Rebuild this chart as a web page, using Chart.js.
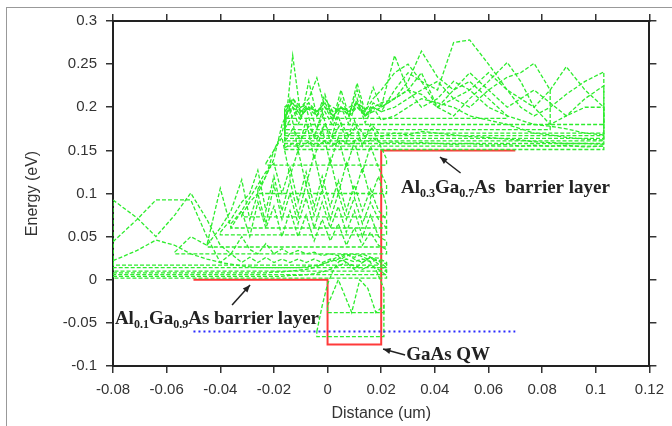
<!DOCTYPE html>
<html>
<head>
<meta charset="utf-8">
<script src="https://cdn.jsdelivr.net/npm/chart.js@4.4.1/dist/chart.umd.min.js"></script>
<style>
  html, body { margin: 0; padding: 0; background: #fff; overflow: hidden; }
  #frame { position: absolute; left: 6px; top: 7px; width: 700px; height: 450px; border-left: 1px solid #999; border-top: 1px solid #999; }
  #chart { position: absolute; left: 0; top: 0; }
</style>
</head>
<body>
<div id="frame"></div>
<canvas id="chart" width="672" height="426"></canvas>
<script>
// axis ranges
const xMin = -0.08, xMax = 0.12, xStep = 0.02;
const yMin = -0.1, yMax = 0.3, yStep = 0.05;

// band edge (red) and fermi level (blue)
const bandX = [-0.05, 0, 0, 0.02, 0.02, 0.07];
const bandE = [0, 0, -0.075, -0.075, 0.15, 0.15];
const fermiX = [-0.05, 0.07];
const fermiE = [-0.06, -0.06];

// states in the Al0.1Ga0.9As layer
const lowerX = [-0.080, -0.071, -0.064, -0.057, -0.051, -0.045, -0.040, -0.036, -0.032, -0.029, -0.026, -0.023, -0.020, -0.017, -0.014, -0.011, -0.008, -0.005, -0.002, 0.001, 0.004, 0.007, 0.010, 0.013, 0.016, 0.019, 0.022];
const lowerBase = [0.002, 0.006, 0.010, 0.014, 0.017, 0.030, 0.038, 0.052, 0.060, 0.073, 0.100, 0.133];
const lowerWaves = [
  [0.004,0.004,0.004,0.004,0.004,0.004,0.004,0.004,0.004,0.004,0.004,0.004,0.004,0.004,0.005,0.005,0.006,0.007,0.009,0.012,0.016,0.020,0.016,0.012,0.017,0.012,0.005],
  [0.008,0.008,0.008,0.008,0.008,0.008,0.008,0.008,0.008,0.008,0.008,0.008,0.009,0.009,0.010,0.011,0.012,0.014,0.018,0.022,0.027,0.020,0.012,0.020,0.026,0.018,0.010],
  [0.022,0.034,0.046,0.040,0.030,0.024,0.020,0.018,0.016,0.015,0.014,0.014,0.014,0.014,0.014,0.014,0.015,0.016,0.018,0.021,0.024,0.030,0.024,0.020,0.026,0.022,0.014],
  [0.044,0.070,0.0925,0.0925,0.0925,0.050,0.020,0.030,0.020,0.026,0.020,0.026,0.020,0.024,0.020,0.024,0.020,0.024,0.020,0.024,0.021,0.024,0.021,0.024,0.021,0.023,0.018],
  [0.0925,0.0716,0.050,0.075,0.1005,0.070,0.040,0.030,0.050,0.035,0.030,0.042,0.030,0.036,0.030,0.034,0.030,0.032,0.028,0.030,0.028,0.030,0.026,0.030,0.026,0.025,0.020],
  [null,null,null,0.032,0.050,0.040,0.106,0.060,0.080,0.050,0.090,0.060,0.085,0.050,0.080,0.050,0.075,0.045,0.070,0.045,0.065,0.040,0.060,0.040,0.055,0.040,0.035],
  [null,null,null,null,null,0.040,0.060,0.080,0.116,0.070,0.100,0.065,0.110,0.070,0.100,0.065,0.095,0.060,0.090,0.060,0.085,0.055,0.080,0.050,0.075,0.050,0.045],
  [null,null,null,null,null,null,0.055,0.070,0.090,0.100,0.127,0.080,0.120,0.080,0.115,0.075,0.110,0.075,0.105,0.070,0.100,0.070,0.095,0.065,0.090,0.070,0.060],
  [null,null,null,null,null,null,null,0.065,0.080,0.095,0.110,0.125,0.135,0.100,0.130,0.090,0.125,0.085,0.120,0.085,0.115,0.080,0.110,0.080,0.105,0.080,0.070],
  [null,null,null,null,null,null,null,null,0.075,0.090,0.100,0.120,0.150,0.165,0.120,0.150,0.110,0.145,0.105,0.140,0.100,0.135,0.100,0.130,0.095,0.120,0.085],
  [null,null,null,null,null,null,null,null,null,null,0.105,0.120,0.140,0.180,0.200,0.150,0.185,0.140,0.175,0.135,0.165,0.130,0.160,0.125,0.155,0.130,0.110],
  [null,null,null,null,null,null,null,null,null,null,null,0.135,0.150,0.170,0.210,0.180,0.200,0.165,0.195,0.160,0.190,0.160,0.185,0.155,0.180,0.160,0.140]
];

// states above the Al0.3Ga0.7As barrier
const upperX = [-0.016, -0.013, -0.010, -0.007, -0.004, -0.001, 0.002, 0.005, 0.008, 0.011, 0.014, 0.017, 0.020, 0.025, 0.030, 0.035, 0.041, 0.047, 0.053, 0.060, 0.067, 0.072, 0.077, 0.083, 0.089, 0.096, 0.103];
const upperBase = [0.151, 0.155, 0.158, 0.161, 0.164, 0.167, 0.170, 0.174, 0.180, 0.187];
const upperWaves = [
  [0.153,0.158,0.154,0.160,0.155,0.161,0.156,0.162,0.157,0.163,0.158,0.164,0.158,0.160,0.158,0.159,0.158,0.157,0.158,0.156,0.157,0.155,0.156,0.155,0.156,0.154,0.155],
  [0.160,0.175,0.162,0.178,0.163,0.180,0.165,0.182,0.166,0.180,0.165,0.178,0.166,0.170,0.168,0.172,0.170,0.168,0.166,0.165,0.163,0.162,0.160,0.159,0.158,0.158,0.157],
  [0.170,0.260,0.190,0.200,0.175,0.195,0.178,0.200,0.180,0.210,0.182,0.200,0.185,0.190,0.200,0.210,0.205,0.200,0.190,0.185,0.180,0.175,0.170,0.168,0.165,0.163,0.162],
  [0.175,0.190,0.200,0.210,0.234,0.200,0.185,0.210,0.190,0.220,0.190,0.205,0.200,0.260,0.220,0.200,0.210,0.230,0.220,0.200,0.190,0.185,0.180,0.178,0.175,0.170,0.168],
  [0.180,0.200,0.185,0.230,0.190,0.215,0.185,0.220,0.190,0.228,0.195,0.223,0.200,0.210,0.230,0.265,0.235,0.220,0.240,0.220,0.200,0.210,0.220,0.205,0.190,0.200,0.200],
  [0.185,0.210,0.195,0.205,0.190,0.210,0.195,0.200,0.190,0.205,0.190,0.200,0.195,0.220,0.240,0.230,0.220,0.275,0.278,0.250,0.220,0.200,0.190,0.200,0.215,0.230,0.241],
  [0.190,0.200,0.192,0.198,0.190,0.200,0.195,0.200,0.190,0.200,0.195,0.210,0.220,0.240,0.250,0.230,0.200,0.190,0.210,0.230,0.252,0.230,0.200,0.180,0.190,0.210,0.225],
  [0.195,0.205,0.190,0.200,0.195,0.205,0.190,0.200,0.195,0.205,0.190,0.200,0.195,0.200,0.210,0.220,0.230,0.210,0.200,0.220,0.235,0.240,0.251,0.220,null,null,null],
  [0.200,0.210,0.200,0.205,0.195,0.200,0.190,0.200,0.195,0.200,0.190,0.195,0.200,0.210,0.220,0.240,0.200,0.210,0.220,0.240,0.220,0.210,0.200,0.220,0.247,0.220,0.200],
  [0.200,0.205,0.195,0.200,0.195,0.205,0.200,0.195,0.200,0.205,0.198,0.200,0.205,0.210,0.220,0.215,0.200,0.220,0.230,0.210,0.190,null,null,null,null,null,null]
];

// states inside the GaAs well
const wellX = [-0.004, -0.002, 0.000, 0.002, 0.004, 0.006, 0.009, 0.012, 0.015, 0.018, 0.021];
const wellBase = [-0.066, -0.038];
const wellWaves = [
  [-0.060,-0.030,-0.005,0.010,0.020,0.026,0.030,0.028,0.024,0.012,-0.010],
  [null,null,-0.030,-0.015,0.000,-0.015,-0.038,0.000,-0.010,-0.038,-0.030]
];

const green = 'rgb(45,236,45)';

// wave drawn on top of its level, closed back along the level line
function stateLoop(xs, ys, base) {
  const pts = [];
  xs.forEach((x, i) => { if (ys[i] !== null) pts.push({ x: x, y: ys[i] }); });
  const first = pts[0], last = pts[pts.length - 1];
  pts.push({ x: last.x, y: base }, { x: first.x, y: base }, { x: first.x, y: first.y });
  return pts;
}

function greenSet(pts) {
  return { data: pts, borderColor: green, borderWidth: 1.3, borderDash: [4, 2], showLine: true, pointRadius: 0, tension: 0 };
}

const datasets = [];
datasets.push({
  data: fermiX.map((x, i) => ({ x: x, y: fermiE[i] })),
  borderColor: '#2a2aff', borderWidth: 2, borderDash: [2, 3], showLine: true, pointRadius: 0
});
wellWaves.forEach((w, i) => datasets.push(greenSet(stateLoop(wellX, w, wellBase[i]))));
lowerWaves.forEach((w, i) => datasets.push(greenSet(stateLoop(lowerX, w, lowerBase[i]))));
upperWaves.forEach((w, i) => datasets.push(greenSet(stateLoop(upperX, w, upperBase[i]))));
datasets.push({
  data: bandX.map((x, i) => ({ x: x, y: bandE[i] })),
  borderColor: '#ff3a3a', borderWidth: 2, showLine: true, pointRadius: 0
});

// labels and arrows, placed in data units
const notes = [
  { x: 0.0274, y: 0.1006, parts: [['Al', 0], ['0.3', 1], ['Ga', 0], ['0.7', 1], ['As  barrier layer', 0]] },
  { x: -0.0793, y: -0.0513, parts: [['Al', 0], ['0.1', 1], ['Ga', 0], ['0.9', 1], ['As barrier layer', 0]] },
  { x: 0.0293, y: -0.093, parts: [['GaAs QW', 0]] }
];
const arrows = [
  { from: [0.0496, 0.1238], to: [0.0419, 0.1423] },
  { from: [-0.0356, -0.0293], to: [-0.0289, -0.0061] },
  { from: [0.0289, -0.0872], to: [0.0207, -0.0803] }
];

const notePlugin = {
  id: 'notes',
  afterDatasetsDraw(chart) {
    const c = chart.ctx, sx = chart.scales.x, sy = chart.scales.y;
    c.save();
    c.fillStyle = '#222';
    c.strokeStyle = '#222';
    c.textBaseline = 'alphabetic';
    notes.forEach(n => {
      let px = sx.getPixelForValue(n.x);
      const py = sy.getPixelForValue(n.y);
      n.parts.forEach(([t, sub]) => {
        c.font = sub ? 'bold 12px "Liberation Serif"' : 'bold 19px "Liberation Serif"';
        c.fillText(t, px, sub ? py + 4 : py);
        px += c.measureText(t).width;
      });
    });
    c.lineWidth = 1.5;
    arrows.forEach(a => {
      const x1 = sx.getPixelForValue(a.from[0]), y1 = sy.getPixelForValue(a.from[1]);
      const x2 = sx.getPixelForValue(a.to[0]), y2 = sy.getPixelForValue(a.to[1]);
      const ang = Math.atan2(y2 - y1, x2 - x1);
      c.beginPath();
      c.moveTo(x1, y1);
      c.lineTo(x2, y2);
      c.stroke();
      c.beginPath();
      c.moveTo(x2, y2);
      c.lineTo(x2 - 8 * Math.cos(ang - 0.4), y2 - 8 * Math.sin(ang - 0.4));
      c.lineTo(x2 - 8 * Math.cos(ang + 0.4), y2 - 8 * Math.sin(ang + 0.4));
      c.closePath();
      c.fill();
    });
    c.restore();
  }
};

function fmt(v) { return String(Number(v.toFixed(2))); }
const tickFont = { family: 'Liberation Sans', size: 15 };
const tickGrid = { drawOnChartArea: false, drawTicks: true, tickLength: 7, color: '#333', lineWidth: 1.5 };
const axisBorder = { display: true, color: '#222', width: 2 };

new Chart(document.getElementById('chart'), {
  type: 'scatter',
  data: { datasets: datasets },
  options: {
    responsive: false,
    animation: false,
    layout: { padding: 0 },
    plugins: { legend: { display: false }, tooltip: { enabled: false } },
    scales: {
      x: {
        type: 'linear', position: 'bottom', min: xMin, max: xMax,
        ticks: { stepSize: xStep, callback: fmt, font: tickFont, color: '#333', padding: 8, maxRotation: 0, autoSkip: false },
        grid: tickGrid, border: axisBorder,
        title: { display: true, text: 'Distance (um)', font: { family: 'Liberation Sans', size: 16 }, color: '#333', padding: { top: 0, bottom: 3 } },
        afterFit: s => { s.height = 60; }
      },
      y: {
        type: 'linear', position: 'left', min: yMin, max: yMax,
        ticks: { stepSize: yStep, callback: fmt, font: tickFont, color: '#333', padding: 9, autoSkip: false },
        grid: tickGrid, border: axisBorder,
        title: { display: true, text: 'Energy (eV)', font: { family: 'Liberation Sans', size: 16 }, color: '#333', padding: { top: 23, bottom: 0 } },
        afterFit: s => { s.width = 113; }
      },
      x2: {
        type: 'linear', position: 'top', min: xMin, max: xMax,
        ticks: { stepSize: xStep, display: false },
        grid: tickGrid, border: axisBorder,
        afterFit: s => { s.height = 21; }
      },
      y2: {
        type: 'linear', position: 'right', min: yMin, max: yMax,
        ticks: { stepSize: yStep, display: false },
        grid: tickGrid, border: axisBorder,
        afterFit: s => { s.width = 19; }
      }
    }
  },
  plugins: [notePlugin]
});
</script>
</body>
</html>
